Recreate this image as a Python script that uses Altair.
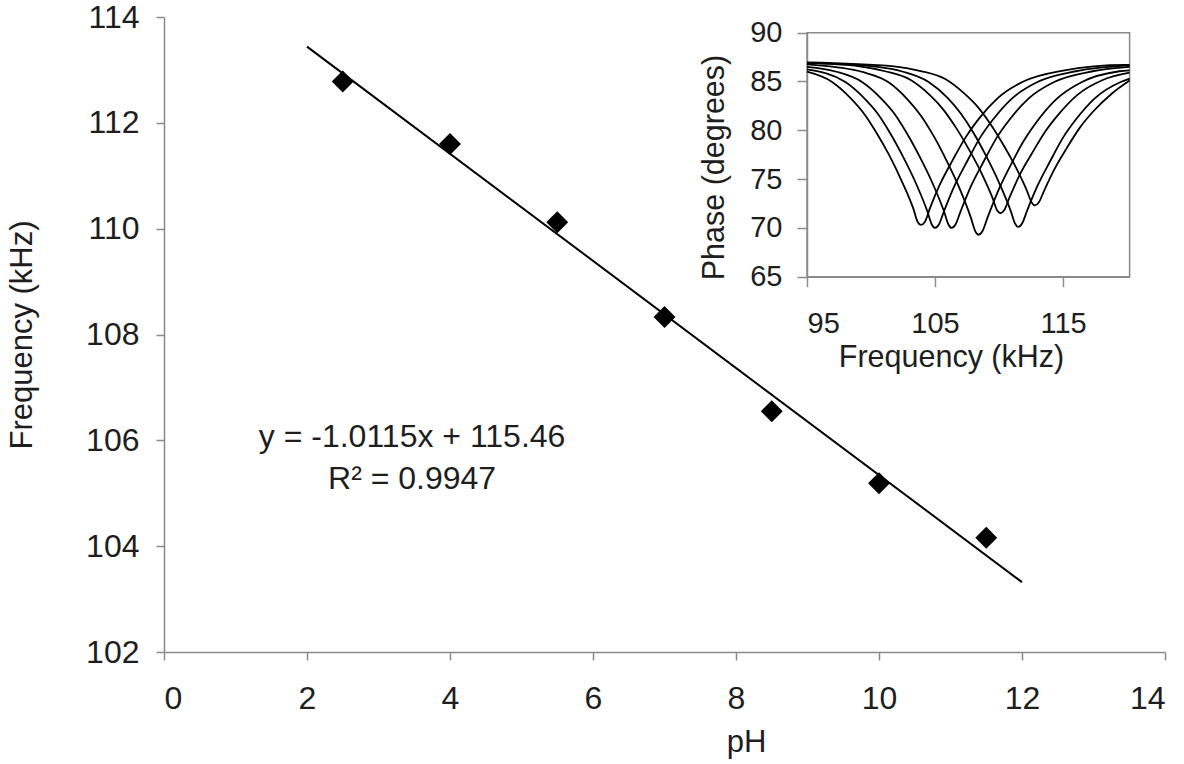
import altair as alt
import pandas as pd

# ---- main data: resonant frequency vs pH ----
ph_values = [2.5, 4.0, 5.5, 7.0, 8.5, 10.0, 11.5]
freq_values = [112.78, 111.6, 110.12, 108.33, 106.55, 105.19, 104.16]

# regression line end points (y = -1.0115x + 115.46)
fit_ph = [2.0, 12.0]
fit_freq = [113.44, 103.32]

eq_line1 = "y = -1.0115x + 115.46"
eq_line2 = "R\u00b2 = 0.9947"

# ---- inset data: phase vs frequency sweeps ----
curve_A_f = [95.0, 96.9, 98.4, 99.4, 100.4, 101.4, 102.4, 103.3, 103.65, 103.9, 104.2, 104.6, 105.4, 106.4, 107.4, 108.4, 109.9, 111.9, 114.9, 119.9, 120.2]
curve_A_p = [86.0, 85.0, 83.3, 81.8, 79.8, 77.5, 74.8, 72.0, 70.6, 70.3, 70.6, 72.0, 74.5, 77.0, 79.3, 81.15, 83.3, 85.0, 86.1, 86.7, 86.7]
curve_B_f = [95.0, 98.0, 99.5, 100.5, 101.5, 102.5, 103.5, 104.4, 104.75, 105.0, 105.3, 105.7, 106.5, 107.5, 108.5, 109.5, 111.0, 113.0, 116.0, 120.2]
curve_B_p = [86.25, 84.95, 83.25, 81.75, 79.7, 77.3, 74.6, 71.7, 70.35, 70.0, 70.35, 71.7, 74.25, 76.8, 79.2, 81.05, 83.25, 84.95, 86.05, 86.65]
curve_C_f = [95.0, 97.3, 99.3, 100.8, 101.8, 102.8, 103.8, 104.8, 105.7, 106.05, 106.3, 106.6, 107.0, 107.8, 108.8, 109.8, 110.8, 112.3, 114.3, 117.3, 120.2]
curve_C_p = [86.5, 86.0, 84.95, 83.25, 81.75, 79.7, 77.3, 74.6, 71.7, 70.35, 70.0, 70.35, 71.7, 74.25, 76.8, 79.2, 81.05, 83.25, 84.95, 86.05, 86.5]
curve_D_f = [95.0, 97.4, 99.4, 101.4, 102.9, 103.9, 104.9, 105.9, 106.9, 107.8, 108.15, 108.4, 108.7, 109.1, 109.9, 110.9, 111.9, 112.9, 114.4, 116.4, 119.4, 120.2]
curve_D_p = [86.75, 86.45, 85.95, 84.9, 83.1, 81.5, 79.4, 76.9, 74.1, 71.05, 69.65, 69.3, 69.65, 71.05, 73.7, 76.4, 78.85, 80.8, 83.1, 84.9, 86.05, 86.15]
curve_E_f = [95.0, 99.1, 101.1, 103.1, 104.6, 105.6, 106.6, 107.6, 108.6, 109.5, 109.85, 110.1, 110.4, 110.8, 111.6, 112.6, 113.6, 114.6, 116.1, 118.1, 120.2]
curve_E_p = [86.9, 86.55, 86.05, 85.15, 83.6, 82.2, 80.35, 78.15, 75.7, 73.05, 71.8, 71.5, 71.8, 73.05, 75.4, 77.7, 79.85, 81.55, 83.6, 85.15, 85.9]
curve_F_f = [95.0, 100.5, 102.5, 104.5, 106.0, 107.0, 108.0, 109.0, 110.0, 110.9, 111.25, 111.5, 111.8, 112.2, 113.0, 114.0, 115.0, 116.0, 117.5, 119.5, 120.2]
curve_F_p = [86.9, 86.5, 86.0, 84.95, 83.3, 81.75, 79.75, 77.35, 74.65, 71.8, 70.45, 70.1, 70.45, 71.8, 74.3, 76.85, 79.25, 81.1, 83.3, 84.95, 85.3]
curve_G_f = [95.0, 101.8, 103.8, 105.8, 107.3, 108.3, 109.3, 110.3, 111.3, 112.2, 112.55, 112.8, 113.1, 113.5, 114.3, 115.3, 116.3, 117.3, 118.8, 120.2]
curve_G_p = [86.95, 86.55, 86.1, 85.25, 83.75, 82.45, 80.7, 78.6, 76.25, 73.75, 72.6, 72.3, 72.6, 73.75, 75.95, 78.2, 80.25, 81.85, 83.75, 85.1]

inset_x_domain = [95, 120.2]
inset_y_domain = [65, 90]

FONT = "Liberation Sans"
AXIS_GREY = "#8a8a8a"
TEXT = "#1e1e1e"

# ---- build tables ----
pts = pd.DataFrame({"pH": ph_values, "freq": freq_values})
fit = pd.DataFrame({"pH": fit_ph, "freq": fit_freq})

rows = []
for name, fs, ps in [("A", curve_A_f, curve_A_p), ("B", curve_B_f, curve_B_p),
                     ("C", curve_C_f, curve_C_p), ("D", curve_D_f, curve_D_p),
                     ("E", curve_E_f, curve_E_p), ("F", curve_F_f, curve_F_p),
                     ("G", curve_G_f, curve_G_p)]:
    for i, (f, p) in enumerate(zip(fs, ps)):
        rows.append({"curve": name, "order": i, "f": f, "phase": p})
curves = pd.DataFrame(rows)
frame = pd.DataFrame({"x0": [inset_x_domain[0]], "x1": [inset_x_domain[1]],
                      "y0": [inset_y_domain[0]], "y1": [inset_y_domain[1]]})

W, H = 1001, 635

main_x = alt.X("pH:Q", scale=alt.Scale(domain=[0, 14], nice=False),
               axis=alt.Axis(values=list(range(0, 15, 2)), format="d", title="pH",
                             grid=False, tickSize=8, labelPadding=23, titleX=582,
                             titleY=90, titleBaseline="middle", titleAlign="center"))
main_y = alt.Y("freq:Q", scale=alt.Scale(domain=[102, 114], nice=False, zero=False),
               axis=alt.Axis(values=list(range(102, 115, 2)), format="d",
                             title="Frequency (kHz)", grid=False, tickSize=8,
                             labelPadding=17, titleX=-142, titleBaseline="middle",
                             titleAlign="center"))

points = alt.Chart(pts).mark_point(shape="diamond", filled=True, color="black",
                                   size=480, opacity=1).encode(x=main_x, y=main_y)
line = alt.Chart(fit).mark_line(color="black", strokeWidth=2).encode(x="pH:Q", y="freq:Q")
t1 = alt.Chart(pd.DataFrame({"t": [eq_line1]})).mark_text(
    font=FONT, fontSize=32, color=TEXT, align="center", baseline="middle"
).encode(x=alt.X(datum=3.47), y=alt.Y(datum=106.06), text="t:N")
t2 = alt.Chart(pd.DataFrame({"t": [eq_line2]})).mark_text(
    font=FONT, fontSize=32, color=TEXT, align="center", baseline="middle"
).encode(x=alt.X(datum=3.47), y=alt.Y(datum=105.27), text="t:N")

main = alt.layer(line, points, t1, t2)

inset_x_scale = alt.Scale(domain=inset_x_domain, range=[643, 965.6], nice=False, zero=False)
inset_y_scale = alt.Scale(domain=inset_y_domain, range=[259.7, 15.7], nice=False, zero=False)

inset_x = alt.X("f:Q", scale=inset_x_scale,
                axis=alt.Axis(orient="bottom", offset=-375.3, values=[95, 105, 115],
                              title="Frequency (kHz)", grid=False, tickSize=10,
                              labelPadding=23, labelFontSize=29, titleFontSize=30.5,
                              titleX=787, titleY=81, titleBaseline="middle",
                              titleAlign="center"))
inset_y = alt.Y("phase:Q", scale=inset_y_scale,
                axis=alt.Axis(orient="left", offset=-643, values=list(range(65, 91, 5)),
                              title="Phase (degrees)", grid=False, tickSize=10,
                              labelPadding=15, labelFontSize=29, titleFontSize=30.5,
                              titleX=-93, titleY=150, titleBaseline="middle",
                              titleAlign="center"))

curve_lines = alt.Chart(curves).mark_line(color="black", strokeWidth=1.8,
                                          interpolate="monotone").encode(
    x=inset_x, y=inset_y, detail="curve:N", order="order:Q")
box = alt.Chart(frame).mark_rect(fill=None, fillOpacity=0, stroke=AXIS_GREY,
                                 strokeWidth=1.5).encode(
    x=alt.X("x0:Q", scale=inset_x_scale), x2="x1:Q",
    y=alt.Y("y0:Q", scale=inset_y_scale), y2="y1:Q")

inset = alt.layer(box, curve_lines)

chart = alt.layer(main, inset).resolve_scale(x="independent", y="independent").properties(
    width=W, height=H,
    autosize=alt.AutoSizeParams(type="none"),
    padding={"left": 164, "top": 17, "right": 19, "bottom": 112},
    background="white",
).configure_view(stroke=None).configure_axis(
    labelFont=FONT, titleFont=FONT, labelFontSize=32, titleFontSize=31,
    labelColor=TEXT, titleColor=TEXT, titleFontWeight="normal",
    domainColor=AXIS_GREY, tickColor=AXIS_GREY, domainWidth=1.5, tickWidth=1.5,
)

chart.save("out.html", embed_options={"renderer": "svg", "actions": False})
